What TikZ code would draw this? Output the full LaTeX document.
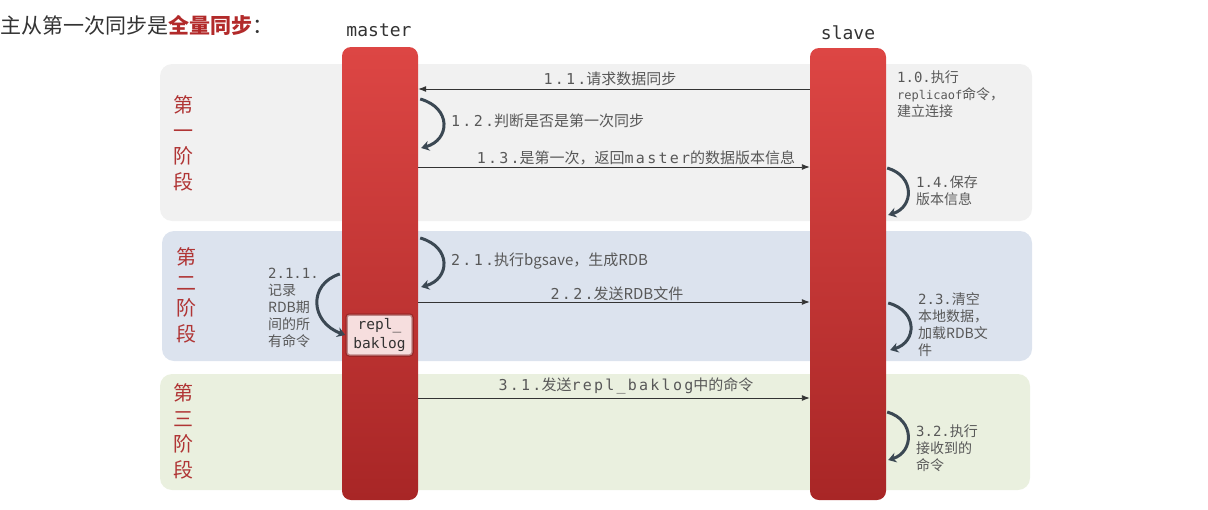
\documentclass[tikz,border=0pt]{standalone}
\usepackage{fontspec}
\usetikzlibrary{arrows.meta}
\newfontfamily\cjk{Noto Sans CJK SC}
\newfontfamily\mono[LetterSpace=15]{DejaVu Sans Mono}
\newfontfamily\monoplain{DejaVu Sans Mono}
\newcommand\C[1]{{\cjk #1}}
\definecolor{txtgray}{HTML}{585858}
\definecolor{linecol}{HTML}{333333}
\definecolor{loopcol}{HTML}{3B4853}
\definecolor{titlecol}{HTML}{333333}
\definecolor{titlered}{HTML}{B22A2A}
\definecolor{phasered}{HTML}{B03535}
\definecolor{barTop}{HTML}{DD4644}
\definecolor{barBot}{HTML}{A82626}
\definecolor{pone}{HTML}{F1F1F1}
\definecolor{ptwo}{HTML}{DCE3EE}
\definecolor{pthree}{HTML}{EAF0DF}
\definecolor{pinkbox}{HTML}{F6DEDE}
\tikzset{
  lbl/.style={font=\fontsize{15}{17}\selectfont\mono, text=txtgray, inner sep=0pt, align=left},
  side/.style={font=\fontsize{14}{17}\selectfont\monoplain, text=txtgray, inner sep=0pt, align=left, anchor=base west},
  msg/.style={draw=linecol, line width=0.9pt, -{Latex[length=8pt,width=6pt]}},
  loopar/.style={draw=loopcol, line width=3pt, -{Stealth[length=8pt,width=10pt]}},
  phasebox/.style={rounded corners=12pt, inner sep=0pt, draw=none},
  bar/.style={rounded corners=9pt, top color=barTop, bottom color=barBot, draw=none, inner sep=0pt, minimum width=76pt},
  phaselbl/.style={font=\fontsize{20}{25.5}\selectfont\cjk, text=phasered, align=center, inner sep=0pt},
  head/.style={font=\fontsize{18}{18}\selectfont\monoplain, text=titlecol, inner sep=0pt},
}
\begin{document}
\begin{tikzpicture}[x=1pt,y=-1pt]
\useasboundingbox (0,0) rectangle (1208,509);
% phase boxes
\node[phasebox, fill=pone, minimum width=872pt, minimum height=157pt] (p1) at (596,142.5) {};
\node[phasebox, fill=ptwo, minimum width=870pt, minimum height=130pt] (p2) at (597,296) {};
\node[phasebox, fill=pthree, minimum width=870pt, minimum height=116pt] (p3) at (595,432) {};
% title
\node[anchor=base west, inner sep=0pt, font=\fontsize{21}{21}\selectfont\cjk, text=titlecol] (title) at (0,33) {主从第一次同步是{\bfseries\color{titlered}全量同步}：};
% heads
\node[head, anchor=base] (mlbl) at (379,36) {master};
\node[head, anchor=base] (slbl) at (848,39) {slave};
% bars
\node[bar, minimum height=453pt] (master) at (380,273.5) {};
\node[bar, minimum height=452pt] (slave) at (848,274) {};
% phase labels
\node[phaselbl] (ph1) at (183,143.5) {第\\一\\阶\\段};
\node[phaselbl] (ph2) at (186,295.5) {第\\二\\阶\\段};
\node[phaselbl] (ph3) at (183,431.5) {第\\三\\阶\\段};
% level coordinates
\coordinate (y11) at (0,89);
\coordinate (y13) at (0,167);
\coordinate (y22) at (0,302);
\coordinate (y31) at (0,398);
% messages
\draw[msg] (slave.west |- y11) -- (master.east |- y11);
\draw[msg] (master.east |- y13) -- (slave.west |- y13);
\draw[msg] (master.east |- y22) -- (slave.west |- y22);
\draw[msg] (master.east |- y31) -- (slave.west |- y31);
\node[lbl, anchor=base] (t11) at (610,84) {1.1.\C{请求数据同步}};
\node[lbl, anchor=base] (t13) at (636,163) {1.3.\C{是第一次，返回}master\C{的数据版本信息}};
\node[lbl, anchor=base] (t22) at (617,299) {2.2.\C{发送RDB文件}};
\node[lbl, anchor=base] (t31) at (626,390) {3.1.\C{发送}repl\_baklog\C{中的命令}};
% loops
\coordinate (a12) at (0,99);
\coordinate (b12) at (0,148);
\draw[loopar] ([xshift=2pt]master.east |- a12) .. controls (452,108) and (450,140) .. ([xshift=3pt]master.east |- b12);
\coordinate (a21) at (0,238);
\coordinate (b21) at (0,287);
\draw[loopar] ([xshift=2pt]master.east |- a21) .. controls (452,247) and (450,279) .. ([xshift=3pt]master.east |- b21);
\coordinate (a14) at (0,168);
\coordinate (b14) at (0,215);
\draw[loopar] ([xshift=1pt]slave.east |- a14) .. controls (915,176) and (914,207) .. ([xshift=2pt]slave.east |- b14);
\coordinate (a23) at (0,303);
\coordinate (b23) at (0,350);
\draw[loopar] ([xshift=2pt]slave.east |- a23) .. controls (918,311) and (917,342) .. ([xshift=4pt]slave.east |- b23);
\coordinate (a32) at (0,412);
\coordinate (b32) at (0,460);
\draw[loopar] ([xshift=1pt]slave.east |- a32) .. controls (915,420) and (914,452) .. ([xshift=2pt]slave.east |- b32);
% repl_baklog
\node[rounded corners=3pt, fill=pinkbox, draw=barBot!70!black, draw opacity=0.45, line width=2.5pt, minimum width=66pt, minimum height=41pt, inner sep=0pt, align=center, font=\fontsize{14.5}{19}\selectfont\monoplain, text=linecol] (rb) at (379.5,335) {repl\_\\baklog};
\coordinate (a211) at (0,274);
\draw[loopar] ([xshift=-2pt]master.west |- a211) .. controls (308,284) and (310,322) .. (rb.west);
% side labels
\node[lbl, anchor=base west] (t121) at (451,126) {1.2.\C{判断是否是第一次同步}};
\node[lbl, anchor=base west] (t21) at (451,265) {2.1.\C{执行bgsave，生成RDB}};
\node[side] (t10) at (897,116) {1.0.\C{执行}\\{\fontsize{12}{17}\selectfont replicaof}\C{命令，}\\\C{建立连接}};
\node[side] (t14) at (916,204) {1.4.\C{保存}\\\C{版本信息}};
\node[side] (t23) at (918,355) {2.3.\C{清空}\\\C{本地数据，}\\\C{加载RDB文}\\\C{件}};
\node[side] (t32) at (916,470) {3.2.\C{执行}\\\C{接收到的}\\\C{命令}};
\node[side] (t211) at (268,346) {2.1.1.\\\C{记录}\\\C{RDB期}\\\C{间的所}\\\C{有命令}};
\end{tikzpicture}
\end{document}
